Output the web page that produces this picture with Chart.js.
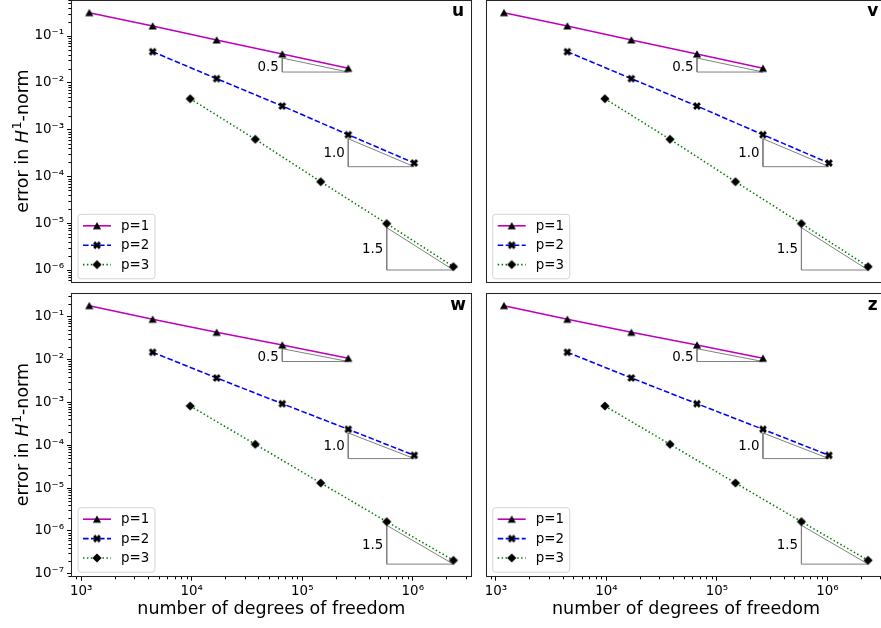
<!DOCTYPE html>
<html>
<head>
<meta charset="utf-8">
<script src="https://cdn.jsdelivr.net/npm/chart.js@4/dist/chart.umd.min.js"></script>
<style>
html, body { margin: 0; padding: 0; background: #fff; overflow: hidden; }
#wrap { position: relative; width: 881px; height: 628px; overflow: hidden; background: #fff; }
canvas { position: absolute; }
</style>
</head>
<body>
<div id="wrap">
  <canvas id="cU" width="478" height="292" style="left:0px;top:-1px"></canvas>
  <canvas id="cV" width="420" height="292" style="left:478px;top:-1px"></canvas>
  <canvas id="cW" width="478" height="338" style="left:0px;top:290px"></canvas>
  <canvas id="cZ" width="420" height="338" style="left:478px;top:290px"></canvas>
</div>
<script>
// ---------------- DATA ----------------
const seriesLabels = ['p=1', 'p=2', 'p=3'];

const dofP1 = [1181, 4426, 16790, 65900, 260600];
const dofP2 = [4426, 16790, 65900, 260600, 1030000];
const dofP3 = [9680, 37570, 146900, 580800, 2330000];

const uP1 = [0.315, 0.164, 0.0822, 0.0412, 0.0204];
const uP2 = [0.0462, 0.01225, 0.00319, 0.000778, 0.000193];
const uP3 = [0.00457, 0.000621, 7.7e-5, 9.8e-6, 1.18e-6];

const vP1 = [0.315, 0.164, 0.0822, 0.0412, 0.0204];
const vP2 = [0.0462, 0.01225, 0.00319, 0.000778, 0.000193];
const vP3 = [0.00457, 0.000621, 7.7e-5, 9.8e-6, 1.18e-6];

const wP1 = [0.181, 0.0869, 0.0432, 0.0218, 0.0107];
const wP2 = [0.01476, 0.00371, 0.00093, 0.000235, 5.8e-5];
const wP3 = [0.000822, 0.000105, 1.31e-5, 1.64e-6, 2.05e-7];

const zP1 = [0.181, 0.0869, 0.0432, 0.0218, 0.0107];
const zP2 = [0.01476, 0.00371, 0.00093, 0.000235, 5.8e-5];
const zP3 = [0.000822, 0.000105, 1.31e-5, 1.64e-6, 2.05e-7];

const slopeRates = [0.5, 1.0, 1.5];
const slopeLabels = ['0.5', '1.0', '1.5'];

const xTickValues = [1e3, 1e4, 1e5, 1e6];
const xTickLabels = ['10³', '10⁴', '10⁵', '10⁶'];
const yTickValuesTop = [1e-1, 1e-2, 1e-3, 1e-4, 1e-5, 1e-6];
const yTickLabelsTop = ['10⁻¹', '10⁻²', '10⁻³', '10⁻⁴', '10⁻⁵', '10⁻⁶'];
const yTickValuesBottom = [1e-1, 1e-2, 1e-3, 1e-4, 1e-5, 1e-6, 1e-7];
const yTickLabelsBottom = ['10⁻¹', '10⁻²', '10⁻³', '10⁻⁴', '10⁻⁵', '10⁻⁶', '10⁻⁷'];

const panelLetters = ['u', 'v', 'w', 'z'];
const xTitle = 'number of degrees of freedom';
const yTitleParts = ['error in ', 'H', '1', '-norm'];

// axis view limits
const xRange = [Math.pow(10, 2.907), Math.pow(10, 6.533)];
const yRangeTop = [Math.pow(10, -6.284), Math.pow(10, -0.22)];
const yRangeBottom = [Math.pow(10, -7.07), Math.pow(10, -0.4537)];

// ---------------- STYLE ----------------
const FONT = "'DejaVu Sans', sans-serif";
const lineColors = ['#bf00bf', '#0000ff', '#008000'];
const lineDashes = [[], [5.6, 2.4], [1.5, 2.4]];
const lineWidths = [1.6, 1.55, 1.55];
const TRI_DROP = 0.82;

function makeMarker(kind) {
  const c = document.createElement('canvas');
  c.width = 12; c.height = 12;
  const g = c.getContext('2d');
  g.translate(6, 6);
  g.fillStyle = '#000';
  g.beginPath();
  if (kind === 'tri') {
    g.moveTo(0, -3.7); g.lineTo(4.1, 3.5); g.lineTo(-4.1, 3.5);
  } else if (kind === 'x') {
    const a = 4.1, w = 1.45, k = Math.SQRT1_2;
    const pts = [[w,-a],[w,-w],[a,-w],[a,w],[w,w],[w,a],[-w,a],[-w,w],[-a,w],[-a,-w],[-w,-w],[-w,-a]];
    pts.forEach(([px, py], i) => {
      const rx = (px - py) * k, ry = (px + py) * k;
      if (i) g.lineTo(rx, ry); else g.moveTo(rx, ry);
    });
  } else {
    g.moveTo(0, -4.6); g.lineTo(4.6, 0); g.lineTo(0, 4.6); g.lineTo(-4.6, 0);
  }
  g.closePath();
  g.fill();
  return c;
}
const markers = [makeMarker('tri'), makeMarker('x'), makeMarker('diamond')];

const panelDefs = [
  { canvas: 'cU', letter: panelLetters[0], errs: [uP1, uP2, uP3], yTicks: yTickValuesTop, yLabels: yTickLabelsTop, yRange: yRangeTop,
    showY: true, showX: false, pad: { left: 0, top: 0.5, right: 6.3, bottom: 7.7 } },
  { canvas: 'cV', letter: panelLetters[1], errs: [vP1, vP2, vP3], yTicks: yTickValuesTop, yLabels: yTickLabelsTop, yRange: yRangeTop,
    showY: false, showX: false, pad: { left: 7.7, top: 0.5, right: 11.6, bottom: 7.7 } },
  { canvas: 'cW', letter: panelLetters[2], errs: [wP1, wP2, wP3], yTicks: yTickValuesBottom, yLabels: yTickLabelsBottom, yRange: yRangeBottom,
    showY: true, showX: true, pad: { left: 0, top: 3.3, right: 6.3, bottom: 0 } },
  { canvas: 'cZ', letter: panelLetters[3], errs: [zP1, zP2, zP3], yTicks: yTickValuesBottom, yLabels: yTickLabelsBottom, yRange: yRangeBottom,
    showY: false, showX: true, pad: { left: 7.7, top: 3.3, right: 11.6, bottom: 0 } }
];
const dofs = [dofP1, dofP2, dofP3];

function triangleFor(dof, err, rate) {
  const k = dof.length - 2;
  const x1 = dof[k], x2 = dof[k + 1];
  const top = err[k] * TRI_DROP;
  const bot = top * Math.pow(x1 / x2, rate);
  return { x1, x2, top, bot };
}

function buildPanel(def) {
  const datasets = [];
  for (let s = 0; s < 3; s++) {
    datasets.push({
      label: seriesLabels[s],
      data: dofs[s].map((x, i) => ({ x: x, y: def.errs[s][i] })),
      borderColor: lineColors[s],
      backgroundColor: '#000',
      borderWidth: lineWidths[s],
      borderDash: lineDashes[s],
      pointStyle: markers[s],
      pointRadius: 5,
      pointHoverRadius: 5,
      fill: false,
      tension: 0,
      isMain: true,
      markerIndex: s
    });
  }
  for (let s = 0; s < 3; s++) {
    const t = triangleFor(dofs[s], def.errs[s], slopeRates[s]);
    datasets.push({
      label: 'slope ' + slopeLabels[s],
      data: [{ x: t.x1, y: t.top }, { x: t.x1, y: t.bot }, { x: t.x2, y: t.bot }, { x: t.x1, y: t.top }],
      borderColor: '#808080',
      borderWidth: 1,
      pointRadius: 0,
      fill: false,
      tension: 0,
      isMain: false,
      slopeIndex: s
    });
  }

  const deco = {
    id: 'deco_' + def.canvas,
    afterDraw(chart) {
      const ctx = chart.ctx;
      const a = chart.chartArea;
      const xs = chart.scales.x, ys = chart.scales.y;
      ctx.save();
      // slope labels
      ctx.fillStyle = '#000';
      ctx.font = '13.4px ' + FONT;
      ctx.textAlign = 'right';
      ctx.textBaseline = 'middle';
      for (let s = 0; s < 3; s++) {
        const t = triangleFor(dofs[s], def.errs[s], slopeRates[s]);
        const px = xs.getPixelForValue(t.x1);
        const py = (ys.getPixelForValue(t.top) + ys.getPixelForValue(t.bot)) / 2;
        ctx.fillText(slopeLabels[s], px - 3.5, py + (s === 0 ? 2 : 0.5));
      }
      // minor ticks
      ctx.strokeStyle = '#000';
      ctx.lineWidth = 1;
      if (def.showX) {
        const lo = Math.floor(Math.log10(xs.min)), hi = Math.ceil(Math.log10(xs.max));
        ctx.beginPath();
        for (let n = lo; n <= hi; n++) for (let m = 2; m <= 9; m++) {
          const v = m * Math.pow(10, n);
          if (v < xs.min || v > xs.max) continue;
          const p = Math.round(xs.getPixelForValue(v)) + 0.5;
          ctx.moveTo(p, a.bottom); ctx.lineTo(p, a.bottom + 2.6);
        }
        ctx.stroke();
      }
      if (def.showY) {
        const lo = Math.floor(Math.log10(ys.min)), hi = Math.ceil(Math.log10(ys.max));
        ctx.beginPath();
        for (let n = lo; n <= hi; n++) for (let m = 2; m <= 9; m++) {
          const v = m * Math.pow(10, n);
          if (v < ys.min || v > ys.max) continue;
          const p = Math.round(ys.getPixelForValue(v)) + 0.5;
          ctx.moveTo(a.left, p); ctx.lineTo(a.left - 2.6, p);
        }
        ctx.stroke();
      }
      // frame
      ctx.strokeStyle = '#262626';
      ctx.lineWidth = 1.05;
      const L = Math.round(a.left) + 0.5, R = Math.round(a.right) - 0.5;
      const T = Math.round(a.top) + 0.5, B = Math.round(a.bottom) - 0.5;
      ctx.strokeRect(L, T, R - L, B - T);
      // panel letter
      ctx.fillStyle = '#000';
      ctx.font = 'bold 17px ' + FONT;
      ctx.textAlign = 'center';
      ctx.textBaseline = 'alphabetic';
      ctx.fillText(def.letter, a.left + 387, a.top + 16.5);
      // x title
      if (def.showX) {
        ctx.font = '17.5px ' + FONT;
        ctx.textAlign = 'center';
        ctx.fillText(xTitle, (a.left + a.right) / 2, a.bottom + 37.3);
      }
      // y title
      if (def.showY) {
        ctx.save();
        ctx.translate(a.left - 42.7, (a.top + a.bottom) / 2);
        ctx.rotate(-Math.PI / 2);
        const fN = '17.5px ' + FONT, fI = 'italic 17.5px ' + FONT, fS = '12.3px ' + FONT;
        const fonts = [fN, fI, fS, fN];
        const rise = [0, 0, -7.2, 0];
        const widths = yTitleParts.map((t, i) => { ctx.font = fonts[i]; return ctx.measureText(t).width; });
        const total = widths.reduce((p, c) => p + c, 0);
        let x = -total / 2;
        ctx.textAlign = 'left';
        ctx.textBaseline = 'alphabetic';
        yTitleParts.forEach((t, i) => {
          ctx.font = fonts[i];
          ctx.fillText(t, x, rise[i]);
          x += widths[i] + (i === 1 ? 0.8 : 0);
        });
        ctx.restore();
      }
      // legend
      const fw = 77, fh = 64.5;
      const fx = a.left + 6.5, fy = a.bottom - 5 - fh;
      ctx.beginPath();
      if (ctx.roundRect) ctx.roundRect(fx + 0.5, fy + 0.5, fw, fh, 3); else ctx.rect(fx + 0.5, fy + 0.5, fw, fh);
      ctx.fillStyle = 'rgba(255,255,255,0.8)';
      ctx.fill();
      ctx.strokeStyle = '#d4d4d4';
      ctx.lineWidth = 1;
      ctx.stroke();
      const mains = chart.data.datasets.filter(d => d.isMain);
      mains.forEach((d, i) => {
        const ry = fy + 12 + i * 19.4;
        ctx.save();
        ctx.strokeStyle = d.borderColor;
        ctx.lineWidth = d.borderWidth;
        ctx.setLineDash(d.borderDash);
        ctx.beginPath();
        ctx.moveTo(fx + 5.5, ry); ctx.lineTo(fx + 33.5, ry);
        ctx.stroke();
        ctx.restore();
        const mk = markers[d.markerIndex];
        ctx.drawImage(mk, fx + 19.5 - mk.width / 2, ry - mk.height / 2);
        ctx.fillStyle = '#000';
        ctx.font = '13.4px ' + FONT;
        ctx.textAlign = 'left';
        ctx.textBaseline = 'middle';
        ctx.fillText(d.label, fx + 43.5, ry + 0.5);
      });
      ctx.restore();
    }
  };

  return new Chart(document.getElementById(def.canvas), {
    type: 'line',
    data: { datasets },
    options: {
      responsive: false,
      animation: false,
      devicePixelRatio: 1,
      events: [],
      layout: { padding: def.pad, autoPadding: false },
      plugins: { legend: { display: false }, tooltip: { enabled: false }, title: { display: false } },
      scales: {
        x: {
          type: 'logarithmic',
          position: 'bottom',
          min: xRange[0], max: xRange[1],
          bounds: 'data',
          afterBuildTicks: s => { s.ticks = xTickValues.map(v => ({ value: v })); },
          afterFit: s => { s.height = def.showX ? 51.3 : 0; s.paddingLeft = 0; s.paddingRight = 0; },
          ticks: {
            display: def.showX, autoSkip: false, maxRotation: 0, padding: 3,
            color: '#000', font: { family: FONT, size: 13.4 },
            callback: (v, i) => xTickLabels[i]
          },
          grid: { display: def.showX, drawOnChartArea: false, drawTicks: true, tickLength: 4, tickColor: '#000', tickWidth: 1 },
          border: { display: false }
        },
        y: {
          type: 'logarithmic',
          position: 'left',
          min: def.yRange[0], max: def.yRange[1],
          bounds: 'data',
          afterBuildTicks: s => { s.ticks = def.yTicks.map(v => ({ value: v })); },
          afterFit: s => { s.width = def.showY ? 71 : 0; s.paddingTop = 0; s.paddingBottom = 0; },
          ticks: {
            display: def.showY, autoSkip: false, padding: 3,
            color: '#000', font: { family: FONT, size: 13.4 },
            callback: (v, i) => def.yLabels[i]
          },
          grid: { display: def.showY, drawOnChartArea: false, drawTicks: true, tickLength: 4, tickColor: '#000', tickWidth: 1 },
          border: { display: false }
        }
      }
    },
    plugins: [deco]
  });
}

panelDefs.forEach(buildPanel);
</script>
</body>
</html>
